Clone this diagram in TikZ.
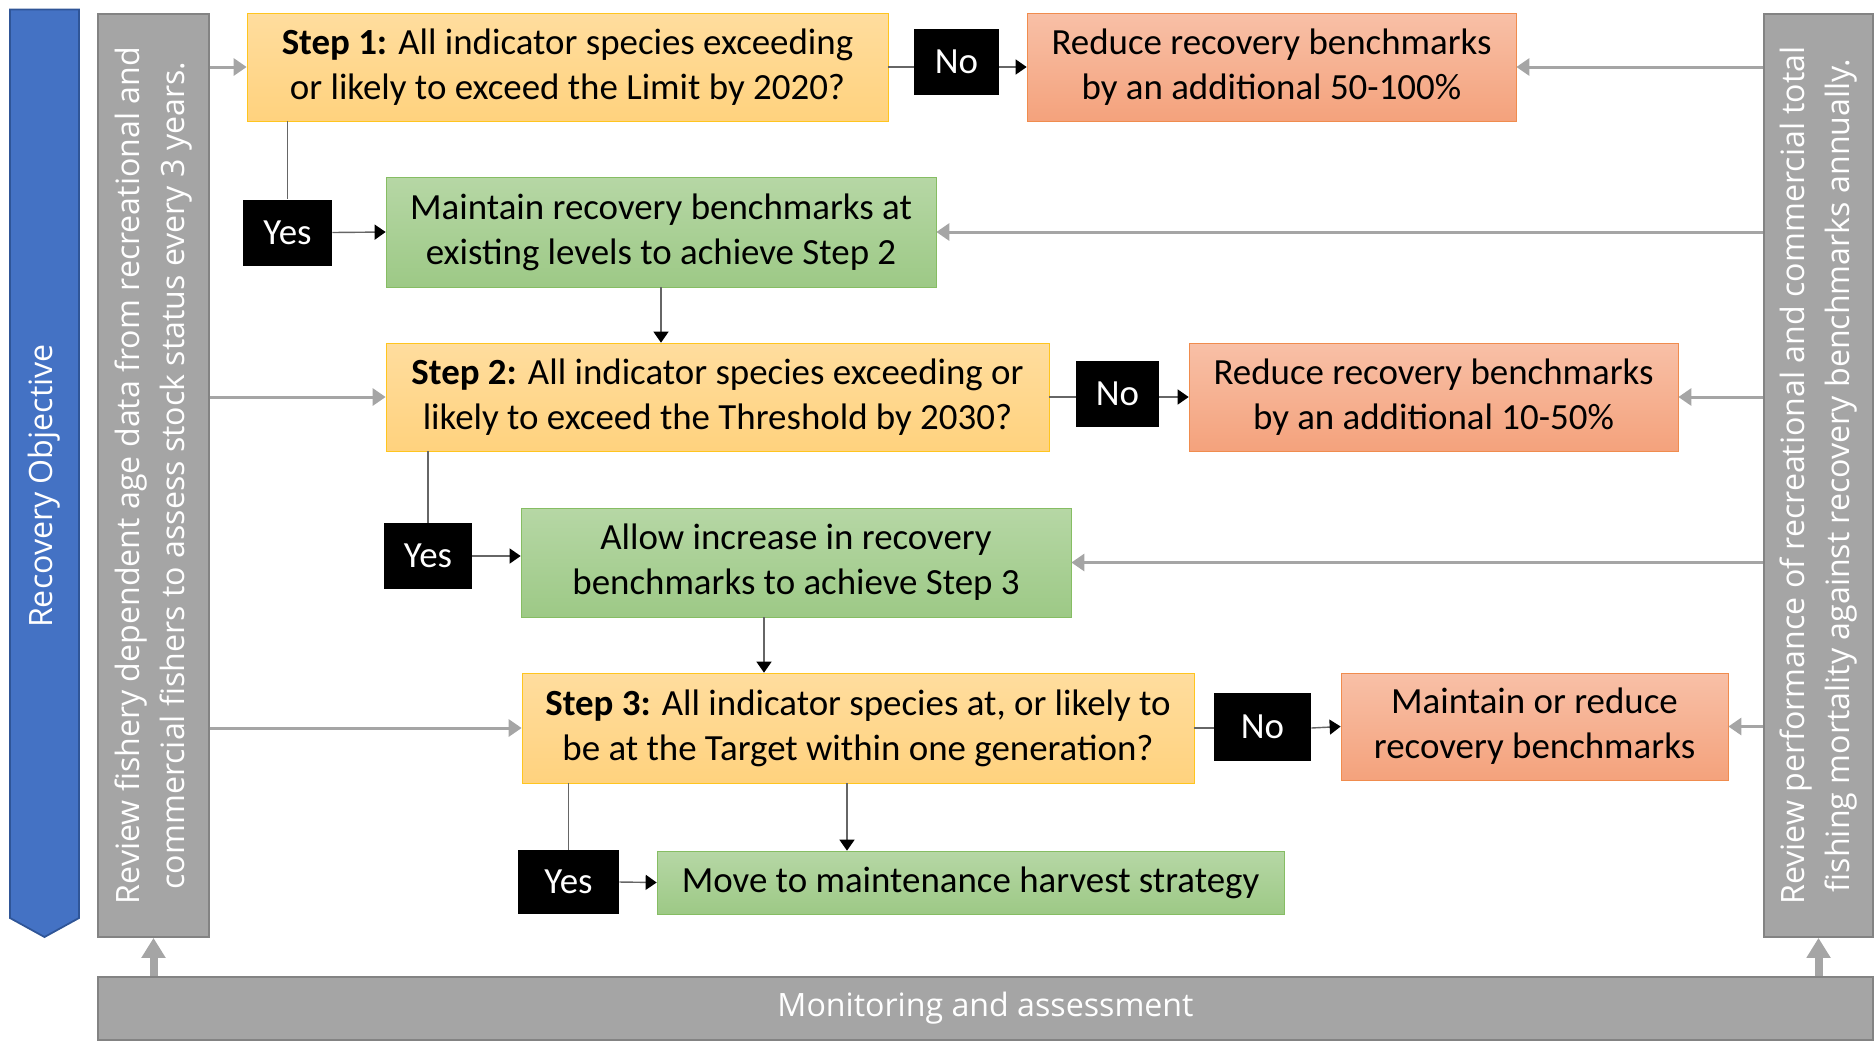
\documentclass[tikz,border=0pt]{standalone}
\usepackage{fontspec}
\setmainfont{Carlito}
\newfontfamily\sidefont{Open Sans}
\usetikzlibrary{arrows.meta}

\definecolor{steptop}{HTML}{FFDD9E}
\definecolor{stepbot}{HTML}{FFD27E}
\definecolor{stepline}{HTML}{FFC51F}
\definecolor{greentop}{HTML}{B6D7A5}
\definecolor{greenbot}{HTML}{9DC986}
\definecolor{greenline}{HTML}{86BD63}
\definecolor{redtop}{HTML}{F8C0A7}
\definecolor{redbot}{HTML}{F4A27C}
\definecolor{redline}{HTML}{F08C4E}
\definecolor{sidegray}{HTML}{A5A5A5}
\definecolor{sideline}{HTML}{838383}
\definecolor{objblue}{HTML}{4472C4}
\definecolor{objline}{HTML}{2F5597}

\begin{document}
\begin{tikzpicture}[
      base/.style={
        rectangle,
        align=center,
        inner sep=0pt,
        font=\fontsize{21}{25.6}\selectfont
      },
      stepbox/.style={base, draw=stepline, top color=steptop, bottom color=stepbot},
      keepbox/.style={base, draw=greenline, top color=greentop, bottom color=greenbot},
      cutbox/.style={base, draw=redline, top color=redtop, bottom color=redbot},
      answer/.style={base, fill=black, text=white, minimum height=1.32cm},
      side/.style={
        rectangle,
        draw=sideline,
        fill=sidegray,
        text=white,
        align=center,
        inner sep=0pt,
        line width=1pt,
        font=\sidefont\fontsize{18.3}{25.6}\selectfont
      },
      link/.style={draw=black!60, line width=0.8pt},
      flow/.style={link, -{Triangle[width=0.3cm, length=0.22cm, color=black]}},
      feed/.style={draw=sidegray, line width=1.7pt, -{Triangle[width=0.34cm, length=0.26cm]}},
      lift/.style={draw=sidegray, line width=0.16cm, -{Triangle[width=0.46cm, length=0.4cm]}}
    ]
    \useasboundingbox (0,0) rectangle (37.48,-20.8);

    % Side panels
    \fill[objblue, draw=objline, line width=1pt]
      (0.2,-0.19) -- (1.58,-0.19) -- (1.58,-18.36) -- (0.89,-18.74) -- (0.2,-18.36) -- cycle;
    \node[text=white, rotate=90, font=\sidefont\fontsize{18.3}{22}\selectfont] (obj) at (0.89,-9.72) {Recovery Objective};
    \node[side, rotate=90, minimum width=18.46cm, minimum height=2.22cm] (revL) at (3.07,-9.51)
      {Review fishery dependent age data from recreational and\\commercial fishers to assess stock status every 3 years.};
    \node[side, rotate=90, minimum width=18.46cm, minimum height=2.18cm] (revR) at (36.37,-9.51)
      {Review performance of recreational and commercial total\\fishing mortality against recovery benchmarks annually.};
    \node[side, minimum width=35.5cm, minimum height=1.26cm] (mon) at (19.71,-20.17) {Monitoring and assessment};

    % Step 1
    \node[stepbox, minimum width=12.82cm, minimum height=2.16cm] (s1) at (11.35,-1.34)
      {\textbf{Step 1:} All indicator species exceeding\\or likely to exceed the Limit by 2020?};
    \node[answer, minimum width=1.70cm] (n1) at (19.13,-1.24) {No};
    \node[cutbox, minimum width=9.78cm, minimum height=2.16cm] (r1) at (25.43,-1.34)
      {Reduce recovery benchmarks\\by an additional 50-100\%};
    \node[answer, minimum width=1.78cm] (y1) at (5.75,-4.65) {Yes};
    \node[keepbox, minimum width=11.0cm, minimum height=2.2cm] (m1) at (13.22,-4.64)
      {Maintain recovery benchmarks at\\existing levels to achieve Step 2};

    % Step 2
    \node[stepbox, minimum width=13.26cm, minimum height=2.16cm] (s2) at (14.35,-7.94)
      {\textbf{Step 2:} All indicator species exceeding or\\likely to exceed the Threshold by 2030?};
    \node[answer, minimum width=1.66cm] (n2) at (22.35,-7.88) {No};
    \node[cutbox, minimum width=9.78cm, minimum height=2.16cm] (r2) at (28.67,-7.94)
      {Reduce recovery benchmarks\\by an additional 10-50\%};
    \node[answer, minimum width=1.76cm] (y2) at (8.56,-11.12) {Yes};
    \node[keepbox, minimum width=11.0cm, minimum height=2.18cm] (a2) at (15.92,-11.25)
      {Allow increase in recovery\\benchmarks to achieve Step 3};

    % Step 3
    \node[stepbox, minimum width=13.44cm, minimum height=2.2cm] (s3) at (17.16,-14.56)
      {\textbf{Step 3:} All indicator species at, or likely to\\be at the Target within one generation?};
    \node[answer, minimum width=1.94cm, minimum height=1.36cm] (n3) at (25.25,-14.54) {No};
    \node[cutbox, minimum width=7.74cm, minimum height=2.14cm] (r3) at (30.69,-14.53)
      {Maintain or reduce\\recovery benchmarks};
    \node[answer, minimum width=2.02cm, minimum height=1.28cm] (y3) at (11.37,-17.64) {Yes};
    \node[keepbox, minimum width=12.54cm, minimum height=1.26cm] (mv) at (19.41,-17.65)
      {Move to maintenance harvest strategy};

    % Decision arrows
    \draw[link] (s1.east) -- (s1.east -| n1.west);
    \draw[flow] (n1.east |- s1) -- (r1.west);
    \draw[link] (s1.south -| y1) -- (y1.north);
    \draw[flow] (y1.east) -- (m1.west);
    \draw[flow] (m1.south) -- (m1.south |- s2.north);
    \draw[link] (s2.east) -- (s2.east -| n2.west);
    \draw[flow] (n2.east |- s2) -- (r2.west);
    \draw[link] (s2.south -| y2) -- (y2.north);
    \draw[flow] (y2.east) -- (y2.east -| a2.west);
    \draw[flow] ([xshift=-0.64cm]a2.south) -- ([xshift=-0.64cm]a2.south |- s3.north);
    \draw[link] (s3.east) -- (s3.east -| n3.west);
    \draw[flow] (n3.east |- s3) -- (r3.west);
    \draw[link] (s3.south -| y3) -- (y3.north);
    \draw[flow] (y3.east) -- (mv.west);
    \draw[flow] ([xshift=-0.22cm]s3.south) -- ([xshift=-0.22cm]s3.south |- mv.north);

    % Review inputs
    \draw[feed] (revL.south |- s1) -- (s1.west);
    \draw[feed] (revL.south |- s2) -- (s2.west);
    \draw[feed] (revL.south |- s3) -- (s3.west);
    \draw[feed] (revR.north |- r1) -- (r1.east);
    \draw[feed] (revR.north |- m1) -- (m1.east);
    \draw[feed] (revR.north |- r2) -- (r2.east);
    \draw[feed] (revR.north |- a2) -- (a2.east);
    \draw[feed] (revR.north |- r3) -- (r3.east);

    % Monitoring
    \draw[lift] (mon.north -| revL.center) -- (revL.west);
    \draw[lift] (mon.north -| revR.center) -- (revR.west);
  \end{tikzpicture}
\end{document}
